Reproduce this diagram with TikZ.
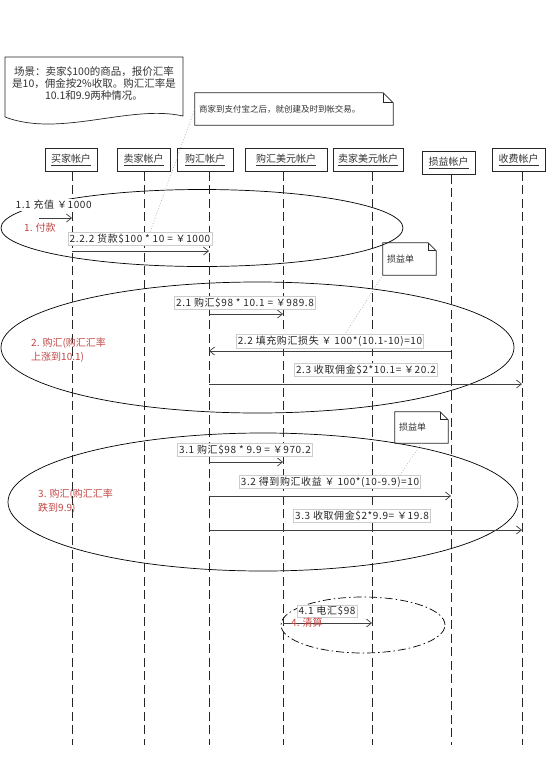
\documentclass[tikz,border=0pt]{standalone}
\usepackage{fontspec}
\setmainfont{Noto Sans CJK SC}
\newfontfamily\lblfont[LetterSpace=6]{Noto Sans CJK SC}
\usetikzlibrary{arrows.meta,calc}
\definecolor{redtxt}{RGB}{196,70,70}
\begin{document}
\begin{tikzpicture}[x=1pt,y=-1pt,
  every node/.style={inner sep=0pt},
  hdr/.style={draw=black!85,line width=0.7pt,minimum height=23pt,font=\fontsize{10}{12}\selectfont,text=black!80},
  lifeline/.style={draw=black!85,line width=0.8pt,dash pattern=on 9pt off 4.5pt},
  msg/.style={draw=black!75,line width=0.7pt,-{Straight Barb[length=5pt,width=8pt]}},
  lbl/.style={fill=white,draw=black!20,line width=0.4pt,inner sep=1.5pt,font=\lblfont\fontsize{10}{12}\selectfont,text=black!85},
  redlbl/.style={font=\fontsize{10}{14}\selectfont,text=redtxt,align=left,anchor=west},
  oval/.style={draw=black,line width=0.7pt},
  notebox/.style={draw=black!85,line width=0.7pt},
  notetxt/.style={inner sep=4pt,align=left,text=black!80},
  notelink/.style={draw=black!35,line width=0.7pt,dotted}
]
\useasboundingbox (0,0) rectangle (557,764);
\fill[white] (0,0) rectangle (557,764);

% ellipses (groups)
\draw[oval] (202,228) ellipse [x radius=201pt, y radius=38.5pt];
\draw[oval] (257.5,347.5) ellipse [x radius=256.5pt, y radius=65.5pt];
\draw[oval] (263,502) ellipse [x radius=255pt, y radius=69pt];
\draw[oval,dash pattern=on 8pt off 3pt on 1.5pt off 3pt] (363,625) ellipse [x radius=82pt, y radius=28pt];

% scenario document
\draw[notebox] (5,57) -- (183,57) -- (183,116) .. controls (130,104) and (60,138) .. (5,117) -- cycle;
\node[font=\fontsize{10.5}{12}\selectfont,align=center,text=black!80] (d) at (94,83)
  {场景：卖家\$100的商品，报价汇率\\是10，佣金按2\%收取。购汇汇率是\\10.1和9.9两种情况。};

% top note
\node[notetxt,text width=190pt,minimum height=32pt,font=\fontsize{8.5}{10}\selectfont] (n1) at (294,109) {商家到支付宝之后，就创建及时到帐交易。};
\draw[notebox] (n1.north west) -- ([xshift=-10pt]n1.north east) -- ([yshift=-10pt]n1.north east) -- (n1.south east) -- (n1.south west) -- cycle;
\draw[notebox] ([xshift=-10pt]n1.north east) |- ([yshift=-10pt]n1.north east);

% profit/loss notes
\node[notetxt,text width=45pt,minimum height=32pt,font=\fontsize{9}{10}\selectfont] (pl1) at (409.5,259) {损益单};
\draw[notebox] (pl1.north west) -- ([xshift=-8pt]pl1.north east) -- ([yshift=-8pt]pl1.north east) -- (pl1.south east) -- (pl1.south west) -- cycle;
\draw[notebox] ([xshift=-8pt]pl1.north east) |- ([yshift=-8pt]pl1.north east);
\node[notetxt,text width=45pt,minimum height=31pt,font=\fontsize{9}{10}\selectfont] (pl2) at (421.5,427.5) {损益单};
\draw[notebox] (pl2.north west) -- ([xshift=-8pt]pl2.north east) -- ([yshift=-8pt]pl2.north east) -- (pl2.south east) -- (pl2.south west) -- cycle;
\draw[notebox] ([xshift=-8pt]pl2.north east) |- ([yshift=-8pt]pl2.north east);

% headers
\node[hdr,minimum width=52pt] (hA) at (71,160) {\underline{买家帐户}};
\node[hdr,minimum width=53pt] (hB) at (143.5,160) {\underline{卖家帐户}};
\node[hdr,minimum width=56pt] (hC) at (205,160) {\underline{购汇帐户}};
\node[hdr,minimum width=82pt] (hD) at (286,160) {\underline{购汇美元帐户}};
\node[hdr,minimum width=70pt] (hE) at (368,160) {\underline{卖家美元帐户}};
\node[hdr,minimum width=53pt] (hF) at (448.5,163) {\underline{损益帐户}};
\node[hdr,minimum width=53pt] (hG) at (518.5,160) {\underline{收费帐户}};

% lifeline ends
\coordinate (eA) at (72,745);
\coordinate (eB) at (144,745);
\coordinate (eC) at (209,745);
\coordinate (eD) at (283,745);
\coordinate (eE) at (372,745);
\coordinate (eF) at (451,745);
\coordinate (eG) at (522,745);
\foreach \h/\e in {hA/eA,hB/eB,hC/eC,hD/eD,hE/eE,hF/eF,hG/eG}
  \draw[lifeline] (\h.south -| \e) -- (\e);

% message end points
\coordinate (s11) at (39,218);  \coordinate (t11) at (72,218);
\coordinate (s222) at (72,251); \coordinate (t222) at (209,251);
\coordinate (s21) at (209,314); \coordinate (t21) at (283,314);
\coordinate (s22) at (451,351); \coordinate (t22) at (209,351);
\coordinate (s23) at (209,384); \coordinate (t23) at (522,384);
\coordinate (s31) at (209,462); \coordinate (t31) at (283,462);
\coordinate (s32) at (209,496); \coordinate (t32) at (451,496);
\coordinate (s33) at (209,530); \coordinate (t33) at (522,530);
\coordinate (s41) at (283,623); \coordinate (t41) at (372,623);

\draw[msg] (s11) -- (t11);
\draw[msg] (s222) -- (t222);
\draw[msg] (s21) -- (t21);
\draw[msg] (s22) -- (t22);
\draw[msg] (s23) -- (t23);
\draw[msg] (s31) -- (t31);
\draw[msg] (s32) -- (t32);
\draw[msg] (s33) -- (t33);
\draw[msg] (s41) -- (t41);

% message labels
\node[lbl,draw=none,anchor=west] (l11) at (14,205) {1.1 充值 ￥1000};
\node[lbl] (l222) at (140,238.5) {2.2.2 货款\$100 * 10 = ￥1000};
\node[lbl] (l21) at (245,303) {2.1 购汇\$98 * 10.1 = ￥989.8};
\node[lbl] (l22) at (330,341) {2.2 填充购汇损失 ￥ 100*(10.1-10)=10};
\node[lbl] (l23) at (366,370) {2.3 收取佣金\$2*10.1= ￥20.2};
\node[lbl] (l31) at (245,450) {3.1 购汇\$98 * 9.9 = ￥970.2};
\node[lbl] (l32) at (330,482) {3.2 得到购汇收益 ￥ 100*(10-9.9)=10};
\node[lbl] (l33) at (362,516) {3.3 收取佣金\$2*9.9= ￥19.8};
\node[lbl] (l41) at (327,611) {4.1 电汇\$98};

% note links
\draw[notelink] (n1.west) -- ([xshift=10pt]l222.north);
\draw[notelink] (pl1.south west) -- ([xshift=15pt]l22.north);
\draw[notelink] (pl2.south) -- ([xshift=70pt]l32.north);

% group labels
\node[redlbl] (r1) at (24,228) {1. 付款};
\node[redlbl] (r2) at (31,350) {2. 购汇(购汇汇率\\上涨到10.1)};
\node[redlbl] (r3) at (38,501) {3. 购汇(购汇汇率\\跌到9.9)};
\node[redlbl] (r4) at (291,623) {4. 清算};
\end{tikzpicture}
\end{document}
